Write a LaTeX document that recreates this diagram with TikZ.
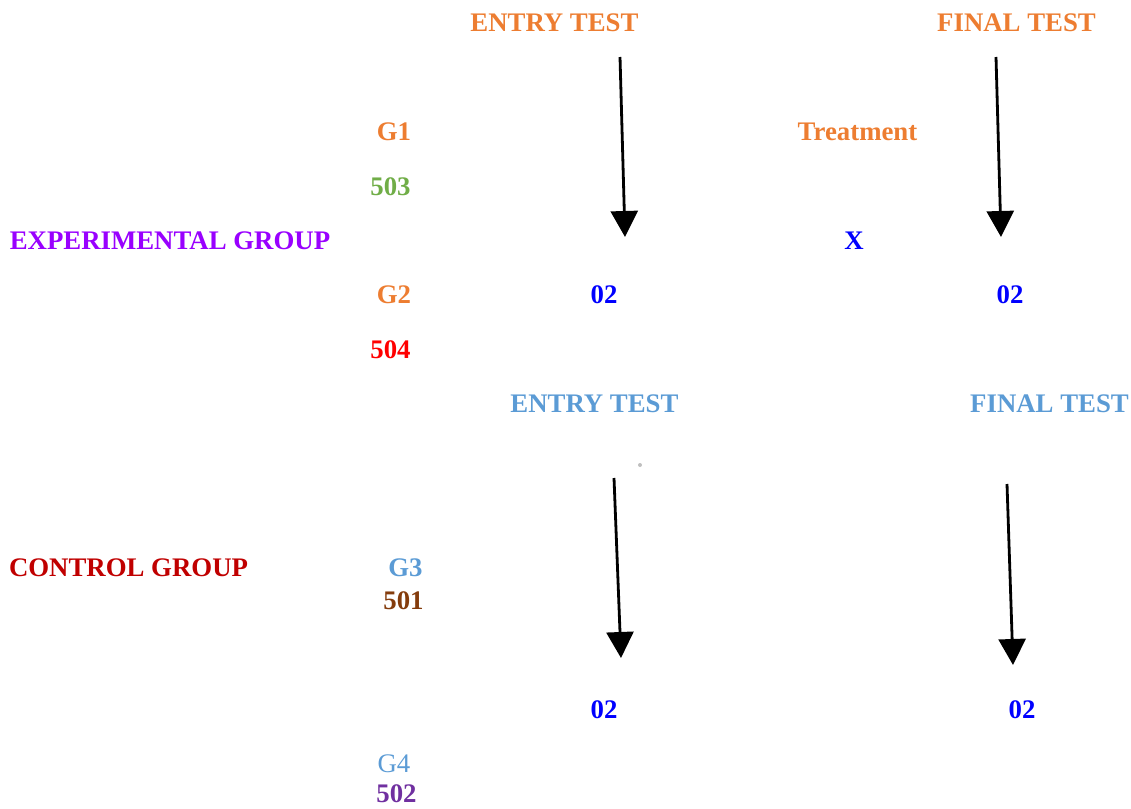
\documentclass[tikz,border=0pt]{standalone}
\usepackage{fontspec}
\setmainfont{Liberation Serif}
\usetikzlibrary{arrows.meta}
\definecolor{corange}{HTML}{ED7D31}
\definecolor{cgreen}{HTML}{70AD47}
\definecolor{cviolet}{HTML}{9900FF}
\definecolor{cblue}{HTML}{0000FF}
\definecolor{clblue}{HTML}{5B9BD5}
\definecolor{cdred}{HTML}{C00000}
\definecolor{cbrown}{HTML}{843C0C}
\definecolor{cpurple}{HTML}{7030A0}
\tikzset{
  lbl/.style={inner sep=0pt, anchor=center, font=\fontsize{26.8}{30}\selectfont\bfseries},
  lblr/.style={inner sep=0pt, anchor=center, font=\fontsize{26.8}{30}\selectfont},
  arr/.style={line width=2.8pt, -{Triangle[width=27pt,length=26pt]}}
}
\begin{document}
\begin{tikzpicture}[x=1pt,y=1pt]
\useasboundingbox (0,0) rectangle (1131,-808);
% headers
\node[lbl, text=corange] (entry1) at (554.5,-23) {ENTRY TEST};
\node[lbl, text=corange] (final1) at (1016.5,-23) {FINAL TEST};
\node[lbl, text=corange] (g1) at (394,-132) {G1};
\node[lbl, text=corange] (treat) at (857.5,-132) {Treatment};
\node[lbl, text=cgreen] (n503) at (390.5,-187) {503};
\node[lbl, text=cviolet] (exp) at (170,-241) {EXPERIMENTAL GROUP};
\node[lbl, text=cblue] (x) at (854,-241) {X};
\node[lbl, text=corange] (g2) at (394,-295) {G2};
\node[lbl, text=cblue] (o1) at (604,-295) {02};
\node[lbl, text=cblue] (o2) at (1010,-295) {02};
\node[lbl, text=red] (n504) at (390.5,-350) {504};
\node[lbl, text=clblue] (entry2) at (594.5,-404) {ENTRY TEST};
\node[lbl, text=clblue] (final2) at (1049.5,-404) {FINAL TEST};
\node[lbl, text=cdred] (ctrl) at (128.5,-568) {CONTROL GROUP};
\node[lbl, text=clblue] (g3) at (405.5,-568) {G3};
\node[lbl, text=cbrown] (n501) at (403.5,-601) {501};
\node[lbl, text=cblue] (o3) at (604,-710) {02};
\node[lbl, text=cblue] (o4) at (1022,-710) {02};
\node[lblr, text=clblue] (g4) at (394,-764) {G4};
\node[lbl, text=cpurple] (n502) at (396.5,-794) {502};
% arrows
\coordinate (a1s) at (620,-57);  \coordinate (a1e) at (625,-237);
\coordinate (a2s) at (996,-57);  \coordinate (a2e) at (1001,-237);
\coordinate (a3s) at (614,-478); \coordinate (a3e) at (621,-658);
\coordinate (a4s) at (1007,-484); \coordinate (a4e) at (1013,-665);
\draw[arr] (a1s) -- (a1e);
\draw[arr] (a2s) -- (a2e);
\draw[arr] (a3s) -- (a3e);
\draw[arr] (a4s) -- (a4e);
% small dot
\fill[black!25] (640,-465) circle (2pt);
\end{tikzpicture}
\end{document}
